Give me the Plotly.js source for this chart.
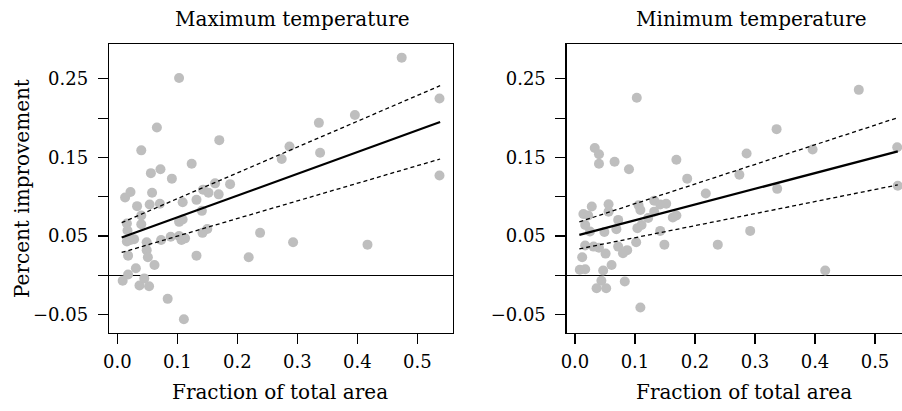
<!DOCTYPE html>
<html>
<head>
<meta charset="utf-8">
<script src="https://cdn.plot.ly/plotly-3.0.1.min.js"></script>
<style>
html,body{margin:0;padding:0;overflow:hidden;background:#fff;width:902px;height:411px;}
#chart{width:911px;height:411px;}
</style>
</head>
<body>
<div id="chart"></div>
<script>
// ---- Data ----
const maxX = [0.474,0.103,0.537,0.396,0.336,0.066,0.170,0.040,0.287,0.338,0.274,0.124,0.072,0.056,0.091,0.537,
  0.013,0.022,0.058,0.033,0.054,0.071,0.040,0.040,0.109,0.132,0.143,0.152,0.163,0.169,0.188,0.141,0.103,0.109,
  0.016,0.017,0.016,0.022,0.028,0.049,0.049,0.051,0.018,0.031,0.062,0.073,0.089,0.103,0.107,0.113,0.142,0.150,
  0.132,0.238,0.219,0.293,0.417,0.009,0.018,0.037,0.045,0.053,0.084,0.111];
const maxY = [0.277,0.251,0.225,0.204,0.194,0.188,0.172,0.159,0.164,0.156,0.148,0.142,0.135,0.130,0.123,0.127,
  0.099,0.106,0.105,0.088,0.090,0.091,0.076,0.065,0.093,0.096,0.109,0.105,0.117,0.103,0.116,0.082,0.068,0.071,
  0.066,0.057,0.043,0.045,0.046,0.042,0.032,0.023,0.025,0.009,0.013,0.045,0.049,0.050,0.045,0.047,0.054,0.059,
  0.025,0.054,0.023,0.042,0.039,-0.007,0.001,-0.013,-0.004,-0.014,-0.030,-0.056];

const minX = [0.473,0.103,0.336,0.537,0.396,0.286,0.033,0.040,0.040,0.066,0.169,0.090,0.187,0.274,0.218,0.337,0.538,
  0.028,0.056,0.056,0.014,0.022,0.017,0.025,0.072,0.069,0.049,0.106,0.109,0.132,0.132,0.142,0.152,0.122,0.111,0.104,
  0.163,0.169,0.142,0.149,0.102,0.087,0.080,0.072,0.051,0.040,0.031,0.017,0.012,0.008,0.017,0.047,0.061,0.238,0.292,
  0.417,0.044,0.036,0.052,0.083,0.109];
const minY = [0.236,0.226,0.186,0.163,0.160,0.155,0.162,0.154,0.142,0.1445,0.147,0.135,0.123,0.128,0.104,0.110,0.114,
  0.0875,0.0905,0.081,0.078,0.076,0.064,0.0557,0.0705,0.0587,0.055,0.089,0.083,0.095,0.081,0.090,0.091,0.073,0.064,0.060,
  0.0735,0.076,0.0565,0.039,0.042,0.032,0.028,0.0365,0.0276,0.035,0.0365,0.038,0.023,0.007,0.0077,0.006,0.013,0.039,0.0565,
  0.006,-0.007,-0.0166,-0.0166,-0.008,-0.041];

// fitted line and confidence band ends
const fitX = [0.0073, 0.538];
const maxFit = [0.048, 0.195];
const maxUpper = [0.067, 0.2413];
const maxLower = [0.029, 0.148];
const minFit = [0.0514, 0.1577];
const minUpper = [0.068, 0.2006];
const minLower = [0.0336, 0.115];

const yTickVals = [-0.05, 0, 0.05, 0.10, 0.15, 0.20, 0.25];
const yTickText = ["\u22120.05", "", "0.05", "", "0.15", "", "0.25"];
const xTickVals = [0.0, 0.1, 0.2, 0.3, 0.4, 0.5];
const xTickText = ["0.0", "0.1", "0.2", "0.3", "0.4", "0.5"];

const panelTitles = ["Maximum temperature", "Minimum temperature"];
const xLabel = "Fraction of total area";
const yLabel = "Percent improvement";

// ---- Plot ----
const W = 911, H = 411;
const FONT = "DejaVu Serif";
const grey = "#bebebe";

function pts(x, y, xa, ya) {
  return {x: x, y: y, xaxis: xa, yaxis: ya, type: "scatter", mode: "markers",
    marker: {color: grey, size: 10}, hoverinfo: "skip", showlegend: false, cliponaxis: true};
}
function ln(x, y, xa, ya, dash, w) {
  return {x: x, y: y, xaxis: xa, yaxis: ya, type: "scatter", mode: "lines",
    line: {color: "#000", width: w, dash: dash}, hoverinfo: "skip", showlegend: false};
}

const traces = [
  pts(maxX, maxY, "x", "y"),
  ln(fitX, maxFit, "x", "y", "solid", 2.2),
  ln(fitX, maxUpper, "x", "y", "4px,3px", 1.3),
  ln(fitX, maxLower, "x", "y", "4px,3px", 1.3),
  pts(minX, minY, "x2", "y2"),
  ln(fitX, minFit, "x2", "y2", "solid", 2.2),
  ln(fitX, minUpper, "x2", "y2", "4px,3px", 1.3),
  ln(fitX, minLower, "x2", "y2", "4px,3px", 1.3)
];

const yDom = [(H - 332.7) / H, (H - 44.3) / H];
function xAxis(d0, d1, anchor) {
  return {domain: [d0 / W, d1 / W], range: [-0.0138, 0.559], anchor: anchor,
    showgrid: false, zeroline: false, showline: true, mirror: true, linecolor: "#000", linewidth: 1.3,
    ticks: "outside", ticklen: 10, tickwidth: 1.1, tickcolor: "#000",
    tickmode: "array", tickvals: xTickVals, ticktext: xTickText,
    tickfont: {family: FONT, size: 18, color: "#000"}, ticklabelstandoff: 2};
}
function yAxis(anchor) {
  return {domain: yDom, range: [-0.0731, 0.294], anchor: anchor,
    showgrid: false, zeroline: true, zerolinecolor: "#000", zerolinewidth: 1.1,
    showline: true, mirror: true, linecolor: "#000", linewidth: 1.3,
    ticks: "outside", ticklen: 10, tickwidth: 1.1, tickcolor: "#000",
    tickmode: "array", tickvals: yTickVals, ticktext: yTickText,
    tickfont: {family: FONT, size: 18, color: "#000"}, ticklabelstandoff: 6};
}

function ann(text, xpx, ypx, size, angle) {
  return {text: text, xref: "paper", yref: "paper", x: xpx / W, y: 1 - ypx / H,
    xanchor: "center", yanchor: "middle", showarrow: false, textangle: angle || 0,
    font: {family: FONT, size: size, color: "#000"}};
}

const layout = {
  width: W, height: H,
  margin: {l: 0, r: 0, t: 0, b: 0, pad: 0},
  paper_bgcolor: "#fff", plot_bgcolor: "#fff",
  showlegend: false,
  xaxis: xAxis(109, 452.7, "y"),
  yaxis: yAxis("x"),
  xaxis2: xAxis(566.7, 910.4, "y2"),
  yaxis2: yAxis("x2"),
  annotations: [
    ann(panelTitles[0], 292, 19, 20),
    ann(panelTitles[1], 751, 19, 20),
    ann(xLabel, 280, 392, 20),
    ann(xLabel, 744, 392, 20),
    ann(yLabel, 22, 189, 20, -90)
  ]
};

Plotly.newPlot("chart", traces, layout, {staticPlot: true, displayModeBar: false});
</script>
</body>
</html>
